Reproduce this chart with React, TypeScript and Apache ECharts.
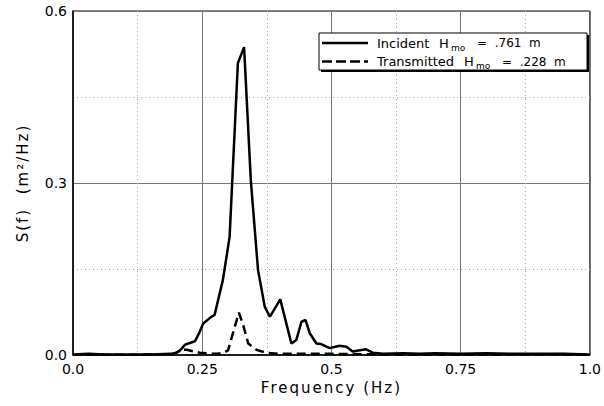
import React, { useEffect, useRef } from "react";
import * as echarts from "echarts";

const incidentFreq = [0, 0.03, 0.06, 0.1, 0.15, 0.19, 0.2, 0.207, 0.217, 0.226, 0.236, 0.245, 0.252, 0.268, 0.274, 0.29, 0.303, 0.319, 0.331, 0.344, 0.358, 0.371, 0.381, 0.401, 0.4225, 0.432, 0.442, 0.45, 0.458, 0.471, 0.48, 0.4965, 0.516, 0.529, 0.541, 0.561, 0.567, 0.58, 0.6, 0.64, 0.67, 0.7, 0.75, 0.8, 0.85, 0.9, 0.95, 1.0];
const incidentVal = [0.001, 0.002, 0.001, 0.001, 0.001, 0.002, 0.004, 0.008, 0.018, 0.021, 0.024, 0.04, 0.055, 0.067, 0.07, 0.131, 0.206, 0.509, 0.537, 0.305, 0.148, 0.084, 0.067, 0.097, 0.02, 0.026, 0.058, 0.061, 0.038, 0.02, 0.019, 0.012, 0.016, 0.0145, 0.006, 0.009, 0.01, 0.004, 0.002, 0.003, 0.002, 0.003, 0.002, 0.003, 0.002, 0.002, 0.002, 0.001];

const transFreq = [0, 0.1, 0.19, 0.2, 0.21, 0.22, 0.23, 0.245, 0.27, 0.29, 0.3, 0.31, 0.321, 0.33, 0.339, 0.355, 0.374, 0.4, 0.5, 0.6, 0.8, 1.0];
const transVal = [0.0005, 0.0005, 0.001, 0.004, 0.009, 0.009, 0.007, 0.004, 0.002, 0.003, 0.008, 0.04, 0.074, 0.05, 0.02, 0.009, 0.004, 0.002, 0.002, 0.001, 0.001, 0.0005];

const xTicks = ["0.0", "0.25", "0.5", "0.75", "1.0"];
const yTicks = ["0.0", "0.3", "0.6"];
const legendNames = ["Incident", "Transmitted"];
const legendH = "H";
const legendSub = "mo";
const legendTails = ["=  .761  m", "=  .228  m"];

const FONT = "DejaVu Sans";

export default function App() {
  const ref = useRef<HTMLDivElement>(null);
  useEffect(() => {
    const chart = echarts.init(ref.current!, null, { renderer: "svg" });
    const toPairs = (f: number[], v: number[]) => f.map((x, i) => [x, v[i]]);
    const txt = (x: number, y: number, text: string, size: number) => ({
      type: "text", x, y, z: 12,
      style: { text, fontSize: size, fontFamily: FONT, fill: "#000", verticalAlign: "middle" },
    });
    chart.setOption({
      animation: false,
      backgroundColor: "#fff",
      grid: { left: 73, right: 14, top: 11, bottom: 51, show: true, borderColor: "#000", borderWidth: 1 },
      xAxis: {
        type: "value", min: 0, max: 1, interval: 0.25,
        name: "Frequency (Hz)", nameLocation: "middle", nameGap: 21,
        nameTextStyle: { fontFamily: FONT, fontSize: 15, color: "#000" },
        axisLine: { show: true, lineStyle: { color: "#000", width: 1.5 } },
        axisTick: { show: false },
        axisLabel: { margin: 7, fontFamily: FONT, fontSize: 14, color: "#000", formatter: (v: number) => xTicks[Math.round(v / 0.25)] },
        splitLine: { show: true, lineStyle: { color: "#777", width: 1 } },
        minorTick: { show: false, splitNumber: 2 },
        minorSplitLine: { show: true, lineStyle: { color: "#aaa", width: 1, type: [1, 3] } },
      },
      yAxis: {
        type: "value", min: 0, max: 0.6, interval: 0.3,
        name: "S(f)  (m²/Hz)", nameLocation: "middle", nameGap: 43,
        nameTextStyle: { fontFamily: FONT, fontSize: 15, color: "#000" },
        axisLine: { show: true, lineStyle: { color: "#000", width: 1.5 } },
        axisTick: { show: false },
        axisLabel: { margin: 6, fontFamily: FONT, fontSize: 14, color: "#000", formatter: (v: number) => yTicks[Math.round(v / 0.3)] },
        splitLine: { show: true, lineStyle: { color: "#777", width: 1 } },
        minorTick: { show: false, splitNumber: 2 },
        minorSplitLine: { show: true, lineStyle: { color: "#aaa", width: 1, type: [1, 3] } },
      },
      series: [
        { type: "line", data: toPairs(incidentFreq, incidentVal), showSymbol: false, lineStyle: { color: "#000", width: 2.5 }, z: 3 },
        { type: "line", data: toPairs(transFreq, transVal), showSymbol: false, lineStyle: { color: "#000", width: 2.5, type: [9, 5] }, z: 3 },
      ],
      graphic: [
        { type: "rect", shape: { x: 321, y: 35, width: 268, height: 37 }, style: { fill: "#000" }, z: 10 },
        { type: "rect", shape: { x: 319, y: 33, width: 268, height: 37 }, style: { fill: "#fff", stroke: "#000", lineWidth: 1 }, z: 11 },
        { type: "line", shape: { x1: 322, y1: 43, x2: 368, y2: 43 }, style: { stroke: "#000", lineWidth: 2.5 }, z: 12 },
        { type: "line", shape: { x1: 322, y1: 61.5, x2: 368, y2: 61.5 }, style: { stroke: "#000", lineWidth: 2.5, lineDash: [10, 4] }, z: 12 },
        txt(377, 43, legendNames[0], 13),
        txt(439, 43, legendH, 13),
        txt(451, 47.5, legendSub, 9),
        txt(477, 43, legendTails[0], 12),
        txt(377, 61.5, legendNames[1], 13),
        txt(464, 61.5, legendH, 13),
        txt(476, 66, legendSub, 9),
        txt(502, 61.5, legendTails[1], 12),
      ],
    });
    return () => chart.dispose();
  }, []);
  return (
    <>
      <style>{`.chartbox text[style*="15px"] { letter-spacing: 2px; }`}</style>
      <div ref={ref} className="chartbox" style={{ position: "fixed", left: 0, top: 0, width: 604, height: 406 }} />
    </>
  );
}
